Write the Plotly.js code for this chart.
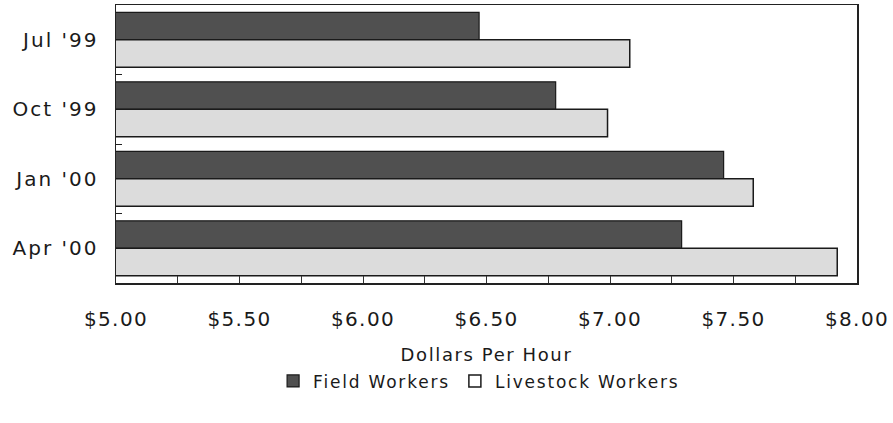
<!DOCTYPE html>
<html>
<head>
<meta charset="utf-8">
<script src="https://cdn.plot.ly/plotly-3.0.1.min.js"></script>
<style>
  html, body { margin: 0; padding: 0; background: #fff; }
  #chart { width: 893px; height: 423px; }
  .xtick text { letter-spacing: 1.4px; }
  .ytick text { letter-spacing: 2px; }
  .xtitle { letter-spacing: 1.6px; }
  .legendtext { letter-spacing: 1.8px; }
  .legend .traces:nth-of-type(2) .legendpoints path { fill: #ffffff !important; }
</style>
</head>
<body>
<div id="chart"></div>
<script>
const categories = ["Jul '99", "Oct '99", "Jan '00", "Apr '00"];
const fieldWorkers = [6.47, 6.78, 7.46, 7.29];
const livestockWorkers = [7.08, 6.99, 7.58, 7.92];
const xTickValues = [5.0, 5.5, 6.0, 6.5, 7.0, 7.5, 8.0];
const xTickLabels = ["$5.00", "$5.50", "$6.00", "$6.50", "$7.00", "$7.50", "$8.00"];

const FONT = "DejaVu Sans, Liberation Sans, Arial, sans-serif";

const traces = [
  {
    type: 'bar', orientation: 'h', name: 'Field Workers',
    y: categories, x: fieldWorkers,
    marker: { color: '#505050', line: { color: '#1a1a1a', width: 1.2 } },
    hoverinfo: 'skip'
  },
  {
    type: 'bar', orientation: 'h', name: 'Livestock Workers',
    y: categories, x: livestockWorkers,
    marker: { color: '#dcdcdc', line: { color: '#1a1a1a', width: 1.5 } },
    hoverinfo: 'skip'
  }
];

const layout = {
  width: 893, height: 423,
  margin: { l: 116, r: 36, t: 5, b: 140 },
  paper_bgcolor: '#ffffff', plot_bgcolor: '#ffffff',
  font: { family: FONT, color: '#1a1a1a' },
  barmode: 'group',
  bargap: 0.21,
  bargroupgap: 0,
  showlegend: true,
  xaxis: {
    range: [5.0, 8.0],
    tickmode: 'array',
    tickvals: xTickValues,
    ticktext: xTickLabels,
    ticks: 'inside', ticklen: 7, tickcolor: '#333', tickwidth: 1,
    minor: { dtick: 0.25, tick0: 5, ticks: 'inside', ticklen: 7, tickcolor: '#333', tickwidth: 1, showgrid: false },
    showgrid: false, zeroline: false,
    showline: true, linecolor: '#222', linewidth: 1.5, mirror: true,
    tickfont: { family: FONT, size: 20, color: '#1a1a1a' },
    ticklabelstandoff: 17,
    title: { text: 'Dollars Per Hour', font: { family: FONT, size: 18, color: '#1a1a1a' }, standoff: 19 }
  },
  yaxis: {
    type: 'category',
    autorange: 'reversed',
    ticks: 'inside', tickson: 'boundaries', ticklen: 6, tickcolor: '#222',
    showgrid: false, zeroline: false,
    showline: true, linecolor: '#222', linewidth: 1.5, mirror: true,
    tickfont: { family: FONT, size: 20, color: '#1a1a1a' },
    ticklabelstandoff: 12
  },
  legend: {
    orientation: 'h',
    x: 0.49, xanchor: 'center',
    y: -0.354, yanchor: 'middle',
    font: { family: FONT, size: 17, color: '#1a1a1a' },
    itemwidth: 30,
    traceorder: 'normal',
    bgcolor: 'rgba(0,0,0,0)'
  }
};

Plotly.newPlot('chart', traces, layout, { staticPlot: true, displayModeBar: false });
</script>
</body>
</html>
